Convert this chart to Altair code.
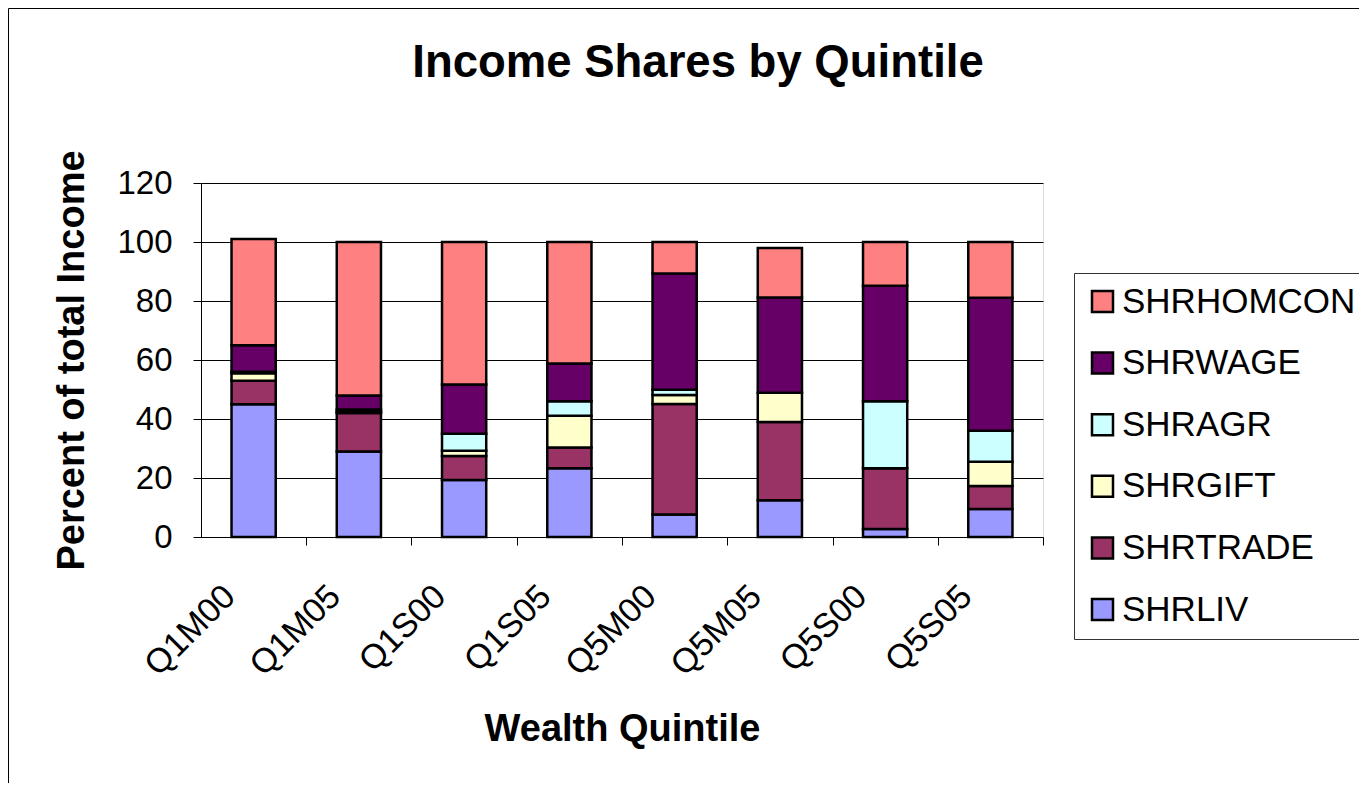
import altair as alt
import pandas as pd

FONT = "Liberation Sans"

categories = ["Q1M00", "Q1M05", "Q1S00", "Q1S05", "Q5M00", "Q5M05", "Q5S00", "Q5S05"]
series_stack = ["SHRLIV", "SHRTRADE", "SHRGIFT", "SHRAGR", "SHRWAGE", "SHRHOMCON"]
legend_order = ["SHRHOMCON", "SHRWAGE", "SHRAGR", "SHRGIFT", "SHRTRADE", "SHRLIV"]
legend_colors = ["#FF8080", "#660066", "#CCFFFF", "#FFFFCC", "#993366", "#9999FF"]
chart_title = "Income Shares by Quintile"

shrliv    = [45.0, 29.0, 19.3, 23.3,  7.6, 12.5,  2.7,  9.5]
shrtrade  = [ 8.0, 13.0,  8.2,  7.0, 37.5, 26.5, 20.6,  7.8]
shrgift   = [ 2.5,  0.5,  1.7, 10.8,  3.0,  9.9,  0.0,  8.2]
shragr    = [ 0.5,  0.7,  5.8,  4.9,  1.8,  0.0, 22.7, 10.5]
shrwage   = [ 9.0,  4.8, 16.7, 12.8, 39.4, 32.3, 39.2, 45.1]
shrhomcon = [36.0, 52.0, 48.3, 41.2, 10.7, 16.8, 14.8, 18.9]

series_values = [shrliv, shrtrade, shrgift, shragr, shrwage, shrhomcon]

rows = []
for i, cat in enumerate(categories):
    for j, (name, vals) in enumerate(zip(series_stack, series_values)):
        rows.append({"quintile": cat, "series": name, "value": vals[i], "order": j})
df = pd.DataFrame(rows)

W, H = 842, 354
STEP = W / len(categories)
PAD = {"left": 193, "top": 175, "right": 316, "bottom": 246}

bars = alt.Chart(df).mark_bar(stroke="black", strokeWidth=2.5).encode(
    x=alt.X(
        "quintile:N",
        sort=categories,
        title="Wealth Quintile",
        scale=alt.Scale(paddingInner=0.58, paddingOuter=0.29),
        axis=alt.Axis(
            labelAngle=-45,
            labelAlign="right",
            labelBaseline="middle",
            labelFont=FONT,
            labelFontSize=34,
            labelColor="black",
            labelPadding=46,
            tickSize=8,
            tickColor="black",
            tickOffset=STEP / 2,
            labelOffset=-STEP / 2 - 24,
            domainColor="black",
            grid=False,
            titleFont=FONT,
            titleFontSize=38,
            titleFontWeight="bold",
            titleColor="black",
            titlePadding=29,
        ),
    ),
    y=alt.Y(
        "value:Q",
        stack="zero",
        title="Percent of total Income",
        scale=alt.Scale(domain=[0, 120]),
        axis=alt.Axis(
            values=[0, 20, 40, 60, 80, 100, 120],
            labelFont=FONT,
            labelFontSize=33,
            labelColor="black",
            labelPadding=21,
            tickSize=8,
            tickColor="black",
            domainColor="black",
            grid=True,
            gridColor="black",
            gridWidth=1,
            titleFont=FONT,
            titleFontSize=38,
            titleFontWeight="bold",
            titleColor="black",
            titlePadding=25,
        ),
    ),
    color=alt.Color(
        "series:N",
        scale=alt.Scale(domain=legend_order, range=legend_colors),
        legend=alt.Legend(
            title=None,
            orient="none",
            legendX=873,
            legendY=90,
            padding=11,
            strokeColor="#333333",
            fillColor="white",
            symbolType="square",
            symbolSize=441,
            symbolStrokeColor="black",
            symbolStrokeWidth=2.5,
            symbolOpacity=1,
            labelFont=FONT,
            labelFontSize=35,
            labelColor="black",
            labelOffset=2,
            rowPadding=25.6,
            labelLimit=400,
        ),
    ),
    order=alt.Order("order:Q"),
)

frame = alt.Chart(alt.Data(values=[{}])).mark_rect(
    fill="transparent", stroke="black", strokeWidth=1
).encode(
    x=alt.value(-192.5),
    x2=alt.value(W + 500),
    y=alt.value(-174.5),
    y2=alt.value(H + 500),
)

title_text = alt.Chart(alt.Data(values=[{}])).mark_text(
    font=FONT, fontSize=45.5, fontWeight="bold", color="black",
    align="center", baseline="alphabetic",
).encode(
    x=alt.value(497),
    y=alt.value(-106),
    text=alt.value(chart_title),
)

chart = alt.layer(frame, bars, title_text).properties(
    width=W,
    height=H,
    padding=PAD,
    autosize=alt.AutoSizeParams(type="none"),
).configure_view(
    fill="#C0C0C0", stroke="#808080", strokeWidth=2
).configure(background="white")

chart.save("out.html", embed_options={"renderer": "svg", "actions": False})
